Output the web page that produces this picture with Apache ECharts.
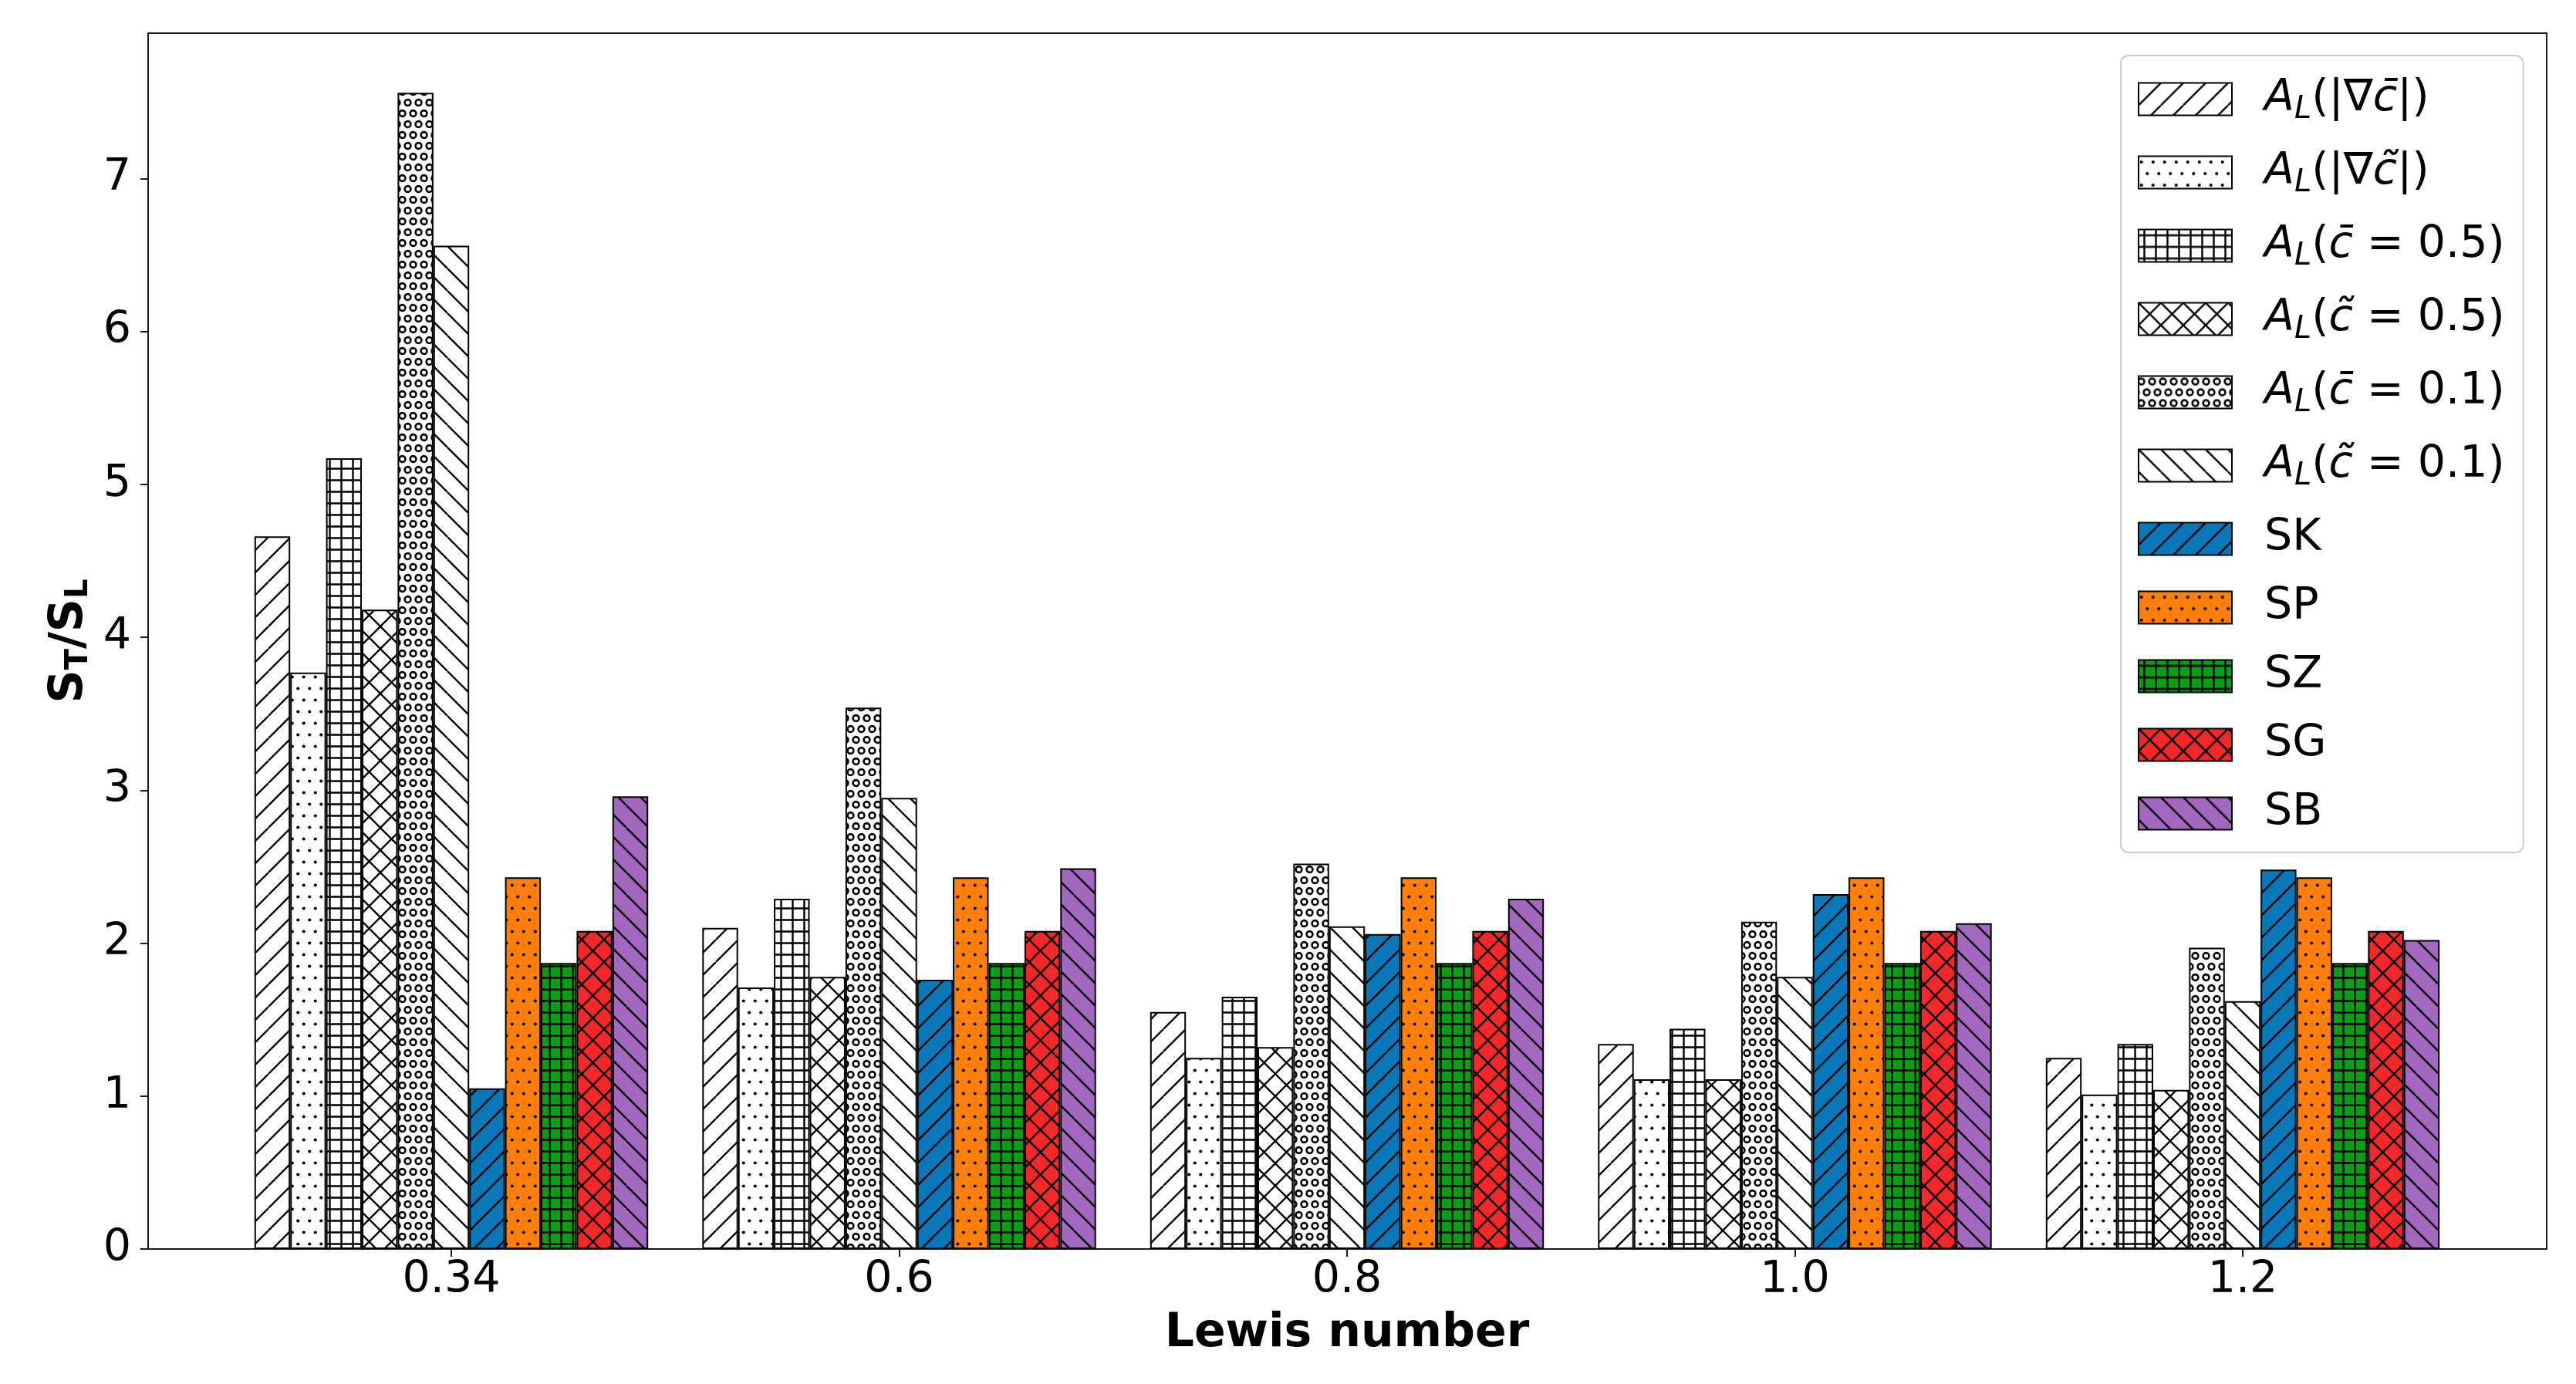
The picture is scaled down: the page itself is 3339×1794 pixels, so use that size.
<!DOCTYPE html>
<html><head><meta charset="utf-8">
<script src="https://cdn.jsdelivr.net/npm/echarts@6/dist/echarts.min.js"></script>
<style>html,body{margin:0;padding:0;background:#fff}#c{width:3339px;height:1794px}</style>
</head><body><div id="c"></div>
<script>
// ---------- data ----------
const categories = ['0.34', '0.6', '0.8', '1.0', '1.2'];
const yTicks = [0, 1, 2, 3, 4, 5, 6, 7];
const seriesNames = ['AL_grad_cbar', 'AL_grad_ctilde', 'AL_cbar05', 'AL_ctilde05', 'AL_cbar01', 'AL_ctilde01', 'SK', 'SP', 'SZ', 'SG', 'SB'];
const AL_grad_cbar   = [4.66, 2.10, 1.55, 1.34, 1.25];
const AL_grad_ctilde = [3.77, 1.71, 1.25, 1.11, 1.01];
const AL_cbar05      = [5.17, 2.29, 1.65, 1.44, 1.34];
const AL_ctilde05    = [4.18, 1.78, 1.32, 1.11, 1.04];
const AL_cbar01      = [7.56, 3.54, 2.52, 2.14, 1.97];
const AL_ctilde01    = [6.56, 2.95, 2.11, 1.78, 1.62];
const SK = [1.05, 1.76, 2.06, 2.32, 2.48];
const SP = [2.43, 2.43, 2.43, 2.43, 2.43];
const SZ = [1.87, 1.87, 1.87, 1.87, 1.87];
const SG = [2.08, 2.08, 2.08, 2.08, 2.08];
const SB = [2.96, 2.49, 2.29, 2.13, 2.02];
const seriesValues = [AL_grad_cbar, AL_grad_ctilde, AL_cbar05, AL_ctilde05, AL_cbar01, AL_ctilde01, SK, SP, SZ, SG, SB];

// ---------- styles ----------
const fills = ['#ffffff', '#ffffff', '#ffffff', '#ffffff', '#ffffff', '#ffffff', '#0a78b8', '#ff7f0a', '#0a9e14', '#f42828', '#a267bf'];
const hatches = ['/', '..', '++', 'x', 'oo', '\\', '/', '..', '++', 'x', '\\'];
const FONT = 'DejaVu Sans';

function makeTile(kind, bg) {
  let w, h;
  if (kind === '/' || kind === '\\' || kind === 'x') { w = 29; h = 29; }
  else if (kind === '++') { w = 15; h = 15; }
  else if (kind === '..') { w = 15; h = 30; }
  else { w = 14; h = 28; }
  const c = document.createElement('canvas');
  c.width = w; c.height = h;
  const g = c.getContext('2d');
  g.fillStyle = bg; g.fillRect(0, 0, w, h);
  g.strokeStyle = '#000'; g.fillStyle = '#000'; g.lineWidth = 2.4;
  g.beginPath();
  if (kind === '/' || kind === 'x') {
    for (const k of [-w, 0, w]) { g.moveTo(k, h); g.lineTo(k + w, 0); }
  }
  if (kind === '\\' || kind === 'x') {
    for (const k of [-w, 0, w]) { g.moveTo(k, 0); g.lineTo(k + w, h); }
  }
  if (kind === '++') {
    g.moveTo(w / 2, 0); g.lineTo(w / 2, h); g.moveTo(0, h / 2); g.lineTo(w, h / 2);
  }
  g.stroke();
  if (kind === '..' || kind === 'oo') {
    const pts = [[w / 4, h / 4], [3 * w / 4, 3 * h / 4]];
    for (const [px, py] of pts) {
      for (const dx of [-w, 0, w]) for (const dy of [-h, 0, h]) {
        g.beginPath();
        if (kind === '..') { g.arc(px + dx, py + dy, 2.1, 0, Math.PI * 2); g.fill(); }
        else { g.lineWidth = 2.6; g.arc(px + dx, py + dy, 3.9, 0, Math.PI * 2); g.stroke(); }
      }
    }
  }
  return c;
}

// legend rich labels
const legendRich = {
  AL_grad_cbar:   '{spm| }{it|A}{sub|L}{n|(|∇}{it|c\u0304}{n||)}',
  AL_grad_ctilde: '{spm| }{it|A}{sub|L}{n|(|∇}{it|c\u0303}{n||)}',
  AL_cbar05:      '{spm| }{it|A}{sub|L}{n|(}{it|c\u0304}{n| = 0.5)}',
  AL_ctilde05:    '{spm| }{it|A}{sub|L}{n|(}{it|c\u0303}{n| = 0.5)}',
  AL_cbar01:      '{spm| }{it|A}{sub|L}{n|(}{it|c\u0304}{n| = 0.1)}',
  AL_ctilde01:    '{spm| }{it|A}{sub|L}{n|(}{it|c\u0303}{n| = 0.1)}',
  SK: '{spt| }{t|SK}', SP: '{spt| }{t|SP}', SZ: '{spt| }{t|SZ}', SG: '{spt| }{t|SG}', SB: '{spt| }{t|SB}'
};

const series = seriesNames.map((name, i) => ({
  name: name,
  type: 'bar',
  xAxisIndex: 0, yAxisIndex: 0,
  data: seriesValues[i],
  barWidth: 46.4,
  barGap: '0%',
  itemStyle: {
    color: { image: makeTile(hatches[i], fills[i]), repeat: 'repeat' },
    borderColor: '#000',
    borderWidth: 2
  },
  emphasis: { disabled: true },
  silent: true
}));

const chart = echarts.init(document.getElementById('c'), null, { renderer: 'canvas' });
chart.setOption({
  animation: false,
  backgroundColor: '#ffffff',
  textStyle: { fontFamily: FONT },
  grid: [
    { left: 294.75, right: 141.75, top: 43, bottom: 175, containLabel: false },
    { left: 192, right: 38, top: 43, bottom: 175, show: true, borderColor: '#1a1a1a', borderWidth: 2, backgroundColor: 'rgba(0,0,0,0)', containLabel: false }
  ],
  xAxis: [
    {
      gridIndex: 0, type: 'category', data: categories,
      axisLine: { show: false },
      axisTick: { show: true, alignWithLabel: true, length: 10, lineStyle: { color: '#1a1a1a', width: 2 } },
      axisLabel: { fontSize: 57, color: '#000', margin: 13, fontFamily: FONT },
      splitLine: { show: false },
      name: 'Lewis number', nameLocation: 'middle', nameGap: 80,
      nameTextStyle: { fontSize: 60, fontWeight: 'bold', color: '#000', lineHeight: 60, fontFamily: FONT }
    },
    { gridIndex: 1, type: 'value', min: 0, max: 1, show: false }
  ],
  yAxis: [
    { gridIndex: 0, type: 'value', min: 0, max: 7.95, show: false },
    {
      gridIndex: 1, type: 'value', min: 0, max: 7.95, interval: 1,
      axisLine: { show: true, lineStyle: { color: '#1a1a1a', width: 2 } },
      axisTick: { show: true, length: 10, lineStyle: { color: '#1a1a1a', width: 2 }, customValues: yTicks },
      axisLabel: { fontSize: 57, color: '#000', margin: 22, fontFamily: FONT, customValues: yTicks },
      splitLine: { show: false },
      name: '{b|S}{bs|T}{b|/S}{bs|L}', nameLocation: 'middle', nameGap: 67, nameRotate: 90,
      nameTextStyle: {
        color: '#000',
        rich: {
          b: { fontSize: 60, fontWeight: 'bold', lineHeight: 64, fontFamily: FONT, color: '#000' },
          bs: { fontSize: 40, fontWeight: 'bold', lineHeight: 34, verticalAlign: 'bottom', fontFamily: FONT, color: '#000' }
        }
      }
    }
  ],
  legend: {
    orient: 'vertical',
    left: 2749, top: 72,
    padding: [28, 24, 22, 22],
    itemGap: 32,
    itemWidth: 121, itemHeight: 42,
    icon: 'rect',
    backgroundColor: 'rgba(255,255,255,0.85)',
    borderColor: '#cccccc', borderWidth: 2, borderRadius: 10,
    selectedMode: false,
    data: seriesNames.map(n => ({ name: n })),
    formatter: name => legendRich[name],
    textStyle: {
      fontSize: 57, color: '#000', fontFamily: FONT,
      rich: {
        spm: { width: 37, fontSize: 57, lineHeight: 69 },
        spt: { width: 37, fontSize: 57, lineHeight: 53 },
        it: { fontSize: 57, fontStyle: 'italic', lineHeight: 69, color: '#000', fontFamily: FONT },
        n: { fontSize: 57, lineHeight: 69, color: '#000', fontFamily: FONT },
        sub: { fontSize: 40, fontStyle: 'italic', lineHeight: 36, verticalAlign: 'bottom', color: '#000', fontFamily: FONT },
        t: { fontSize: 57, lineHeight: 53, color: '#000', fontFamily: FONT }
      }
    }
  },
  series: series
});
</script>
</body></html>
